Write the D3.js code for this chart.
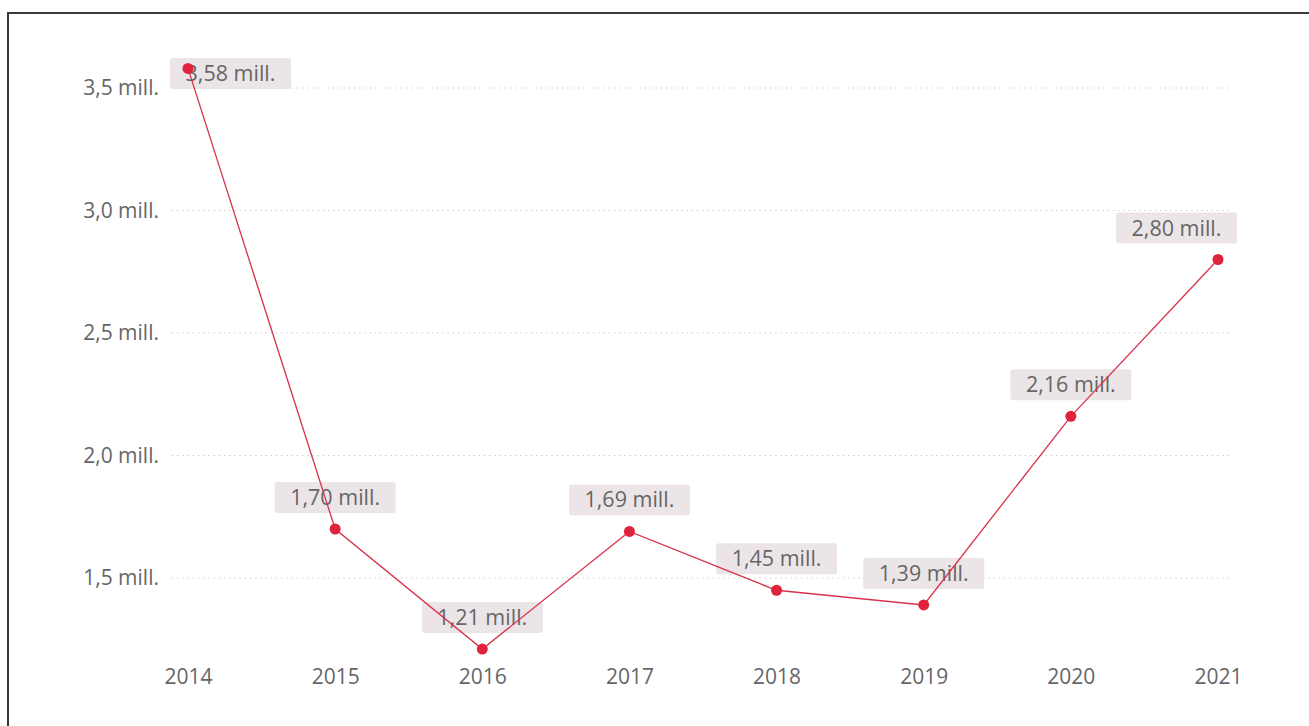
<!DOCTYPE html>
<html><head><meta charset="utf-8">
<script src="https://cdn.jsdelivr.net/npm/d3@7"></script>
<style>
html,body{margin:0;padding:0;background:#fff;}
svg{display:block;}
</style></head>
<body>
<svg id="chart" width="1309" height="726"></svg>
<script>
const years = ["2014","2015","2016","2017","2018","2019","2020","2021"];
const values = [3.58, 1.70, 1.21, 1.69, 1.45, 1.39, 2.16, 2.80];
const valueLabels = ["3,58 mill.","1,70 mill.","1,21 mill.","1,69 mill.","1,45 mill.","1,39 mill.","2,16 mill.","2,80 mill."];
const yTicks = [1.5, 2.0, 2.5, 3.0, 3.5];
const yTickLabels = ["1,5 mill.","2,0 mill.","2,5 mill.","3,0 mill.","3,5 mill."];

const svg = d3.select("#chart");
const W = 1309, H = 726;
const font = "'Open Sans', 'Noto Sans', sans-serif";

// frame
svg.append("path").attr("d", `M8,${H} V13 H${W}`).attr("fill","none").attr("stroke","#3a3a3a").attr("stroke-width",2);

const plot = {left:170, right:1237, top:58, bottom:660};
const x = d3.scalePoint().domain(years).range([188, 1218]);
const y = d3.scaleLinear().domain([1.5, 3.5]).range([578, 88]);

// gridlines
const grid = svg.append("g");
grid.selectAll("line").data(yTicks).join("line")
  .attr("x1",172).attr("x2",1232)
  .attr("y1",d=>y(d)).attr("y2",d=>y(d))
  .attr("stroke","#c4c4c4").attr("stroke-width",1.2).attr("stroke-dasharray","1.2,4");

// y axis
const yAxis = d3.axisLeft(y).tickValues(yTicks).tickFormat((d,i)=>yTickLabels[i]).tickSize(0).tickPadding(0);
const yg = svg.append("g").attr("transform","translate(159,0)").call(yAxis);
yg.select(".domain").remove();
yg.selectAll("text").attr("font-family",font).attr("font-size",21).attr("fill","#666").attr("dy","0.32em");

// x axis
const xAxis = d3.axisBottom(x).tickSize(0).tickPadding(0);
const xg = svg.append("g").attr("transform","translate(0,677)").call(xAxis);
xg.select(".domain").remove();
xg.selectAll("text").attr("font-family",font).attr("font-size",21).attr("fill","#666").attr("dy","0.32em");

// data labels (behind line)
const boxW = 121, boxH = 31, gap = 16;
const labG = svg.append("g");
years.forEach((yr,i)=>{
  const px = x(yr), py = y(values[i]);
  let bx = px - boxW/2, by = py - gap - boxH;
  if (bx < plot.left) bx = plot.left;
  if (bx + boxW > plot.right) bx = plot.right - boxW;
  if (by < plot.top) by = plot.top;
  labG.append("rect").attr("x",bx).attr("y",by).attr("width",boxW).attr("height",boxH)
    .attr("rx",3).attr("fill","#ebe5e8");
  labG.append("text").attr("x",bx+boxW/2).attr("y",by+boxH/2).attr("dy","0.35em")
    .attr("text-anchor","middle").attr("font-family",font).attr("font-size",21.5)
    .attr("fill","#666").text(valueLabels[i]);
});

// line
const line = d3.line().x((d,i)=>x(years[i])).y(d=>y(d));
svg.append("path").datum(values).attr("d",line).attr("fill","none")
  .attr("stroke","#d8324c").attr("stroke-width",1.3);

// points
svg.append("g").selectAll("circle").data(values).join("circle")
  .attr("cx",(d,i)=>x(years[i])).attr("cy",d=>y(d)).attr("r",5.5).attr("fill","#e0233d");
</script>
</body></html>
